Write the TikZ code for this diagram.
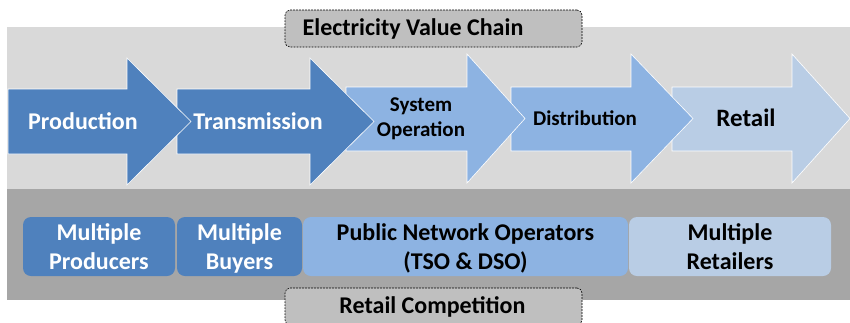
\documentclass[tikz,border=0pt]{standalone}
\usepackage{fontspec}
\setmainfont{Carlito}
\usepackage{xcolor}
\usepackage{tikz}

\definecolor{darkblue}{HTML}{4F81BD}
\definecolor{midblue}{HTML}{8DB3E2}
\definecolor{paleblue}{HTML}{B9CDE5}
\definecolor{chainbg}{HTML}{D9D9D9}
\definecolor{actorbg}{HTML}{A6A6A6}
\definecolor{bannerbg}{HTML}{BFBFBF}

\tikzset{
  stage/.style={draw=white, line width=0.6pt, line join=miter},
  stagetext/.style={font=\bfseries\fontsize{24}{28}\selectfont, align=center},
  actor/.style={rounded corners=8pt, inner sep=0pt, minimum height=59pt},
  actortext/.style={align=center, inner sep=0pt,
    font=\bfseries\fontsize{24}{29}\selectfont,
    execute at begin node=\strut, execute at end node=\strut},
  banner/.style={draw, line width=0.6pt, dash pattern=on 1.8pt off 1.2pt,
    rounded corners=5pt, fill=bannerbg,
    minimum width=297pt, minimum height=37pt, inner sep=0pt},
  bannertext/.style={font=\bfseries\fontsize{24}{28}\selectfont}
}

\begin{document}
\begin{tikzpicture}[x=1pt,y=-1pt]
\useasboundingbox (0,0) rectangle (850,322);
\clip (0,0) rectangle (850,322);

\fill[chainbg] (7,27) rectangle (850,189);
\fill[actorbg] (7,189) rectangle (850,300);

% value chain, drawn right to left so each tip lies on the next body
\draw[stage, fill=paleblue] (672,87)--(792,87)--(792,54)--(850,118.5)--(792,183)--(792,151)--(672,151)--cycle;
\draw[stage, fill=midblue] (511,87)--(631,87)--(631,54)--(693,118.5)--(631,183)--(631,151)--(511,151)--cycle;
\draw[stage, fill=midblue] (346,87)--(467,87)--(467,54)--(525,118.5)--(467,183)--(467,151)--(346,151)--cycle;
\draw[stage, fill=darkblue] (177,89)--(310,89)--(310,58)--(374,121.5)--(310,185)--(310,154)--(177,154)--cycle;
\draw[stage, fill=darkblue] (8,89)--(127,89)--(127,58)--(191,121.5)--(127,185)--(127,154)--(8,154)--cycle;

\node[stagetext, text=white] (production) at (83,121) {Production};
\node[stagetext, text=white] (transmission) at (258,121) {Transmission};
\node[stagetext, font=\bfseries\fontsize{21}{25}\selectfont] (sysop) at (421,119) {System\\Operation};
\node[stagetext, font=\bfseries\fontsize{21}{25}\selectfont] (distribution) at (585,118) {Distribution};
\node[stagetext, font=\bfseries\fontsize{25}{29}\selectfont] (retail) at (746,118) {Retail};

% market actors
\node[actor, fill=darkblue, minimum width=152pt] (producersbox) at (99,246.5) {};
\node[actor, fill=darkblue, minimum width=125pt] (buyersbox) at (239.5,246.5) {};
\node[actor, fill=midblue, minimum width=325pt] (operatorsbox) at (465.5,246.5) {};
\node[actor, fill=paleblue, minimum width=202pt] (retailersbox) at (730,246.5) {};
\node[actortext, text=white] (producers) at (99,251) {Multiple\\Producers};
\node[actortext, text=white] (buyers) at (239.5,251) {Multiple\\Buyers};
\node[actortext] (operators) at (465.5,251) {Public Network Operators\\(TSO \& DSO)};
\node[actortext] (retailers) at (730,251) {Multiple\\Retailers};

\node[banner] (chainbox) at (433.5,28.5) {};
\node[bannertext] (chain) at (413,28.5) {Electricity Value Chain};
\node[banner] (competitionbox) at (433.5,306.5) {};
\node[bannertext] (competition) at (432.5,306.5) {Retail Competition};
\end{tikzpicture}
\end{document}
